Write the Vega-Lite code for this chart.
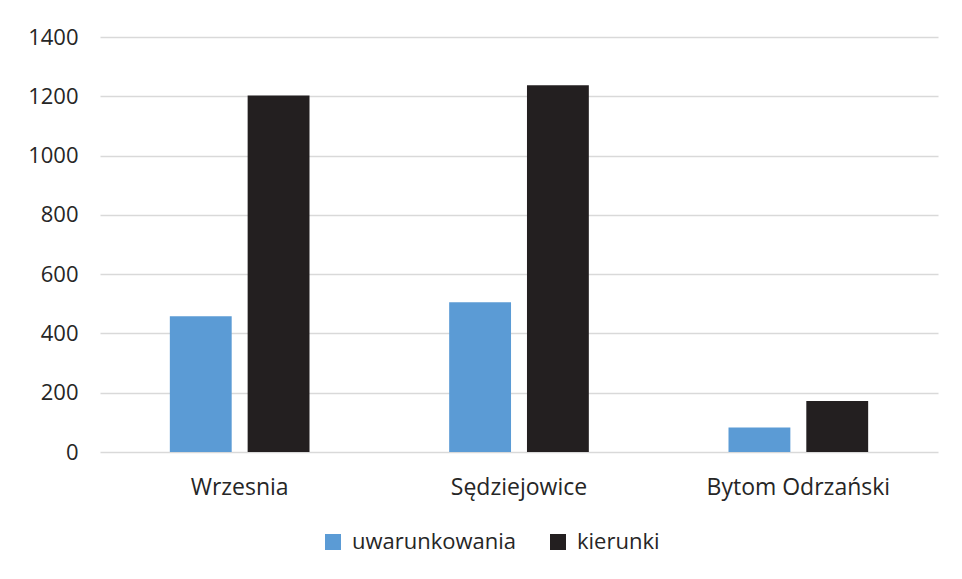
{
  "$schema": "https://vega.github.io/schema/vega-lite/v6.json",
  "autosize": {"type": "none"},
  "width": 838,
  "height": 415,
  "padding": {"left": 100, "top": 37, "right": 24, "bottom": 127},
  "background": "white",
  "data": {
    "values": [
      {"miejsce": "Wrzesnia", "seria": "uwarunkowania", "wartosc": 458},
      {"miejsce": "Wrzesnia", "seria": "kierunki", "wartosc": 1203},
      {"miejsce": "Sędziejowice", "seria": "uwarunkowania", "wartosc": 505},
      {"miejsce": "Sędziejowice", "seria": "kierunki", "wartosc": 1237},
      {"miejsce": "Bytom Odrzański", "seria": "uwarunkowania", "wartosc": 83},
      {"miejsce": "Bytom Odrzański", "seria": "kierunki", "wartosc": 172}
    ]
  },
  "mark": {"type": "bar"},
  "encoding": {
    "x": {
      "field": "miejsce",
      "type": "nominal",
      "sort": ["Wrzesnia", "Sędziejowice", "Bytom Odrzański"],
      "scale": {"paddingInner": 0.5, "paddingOuter": 0.25},
      "axis": {
        "title": null,
        "labelAngle": 0,
        "domain": false,
        "ticks": false,
        "labelPadding": 24,
        "labelFontSize": 23,
        "labelLimit": 300,
        "labelFont": "Open Sans",
        "labelColor": "#262626"
      }
    },
    "xOffset": {
      "field": "seria",
      "type": "nominal",
      "sort": ["uwarunkowania", "kierunki"],
      "scale": {"paddingInner": 0.205, "paddingOuter": 0}
    },
    "y": {
      "field": "wartosc",
      "type": "quantitative",
      "scale": {"domain": [0, 1400], "nice": false},
      "axis": {
        "title": null,
        "values": [0, 200, 400, 600, 800, 1000, 1200, 1400],
        "format": "d",
        "domain": false,
        "ticks": false,
        "labelPadding": 22,
        "labelFontSize": 22,
        "labelFont": "Open Sans",
        "labelColor": "#262626",
        "gridColor": "#d9d9d9",
        "gridWidth": 1.5
      }
    },
    "color": {
      "field": "seria",
      "type": "nominal",
      "sort": ["uwarunkowania", "kierunki"],
      "scale": {"domain": ["uwarunkowania", "kierunki"], "range": ["#5b9bd5", "#231f20"]},
      "legend": {
        "title": null,
        "orient": "none",
        "legendX": 222,
        "legendY": 494,
        "direction": "horizontal",
        "symbolType": "square",
        "symbolSize": 256,
        "symbolStrokeWidth": 0,
        "labelOffset": 8,
        "labelLimit": 300,
        "labelFontSize": 22,
        "labelFont": "Open Sans",
        "labelColor": "#262626",
        "columnPadding": 30
      }
    }
  },
  "config": {
    "view": {"stroke": null}
  }
}
